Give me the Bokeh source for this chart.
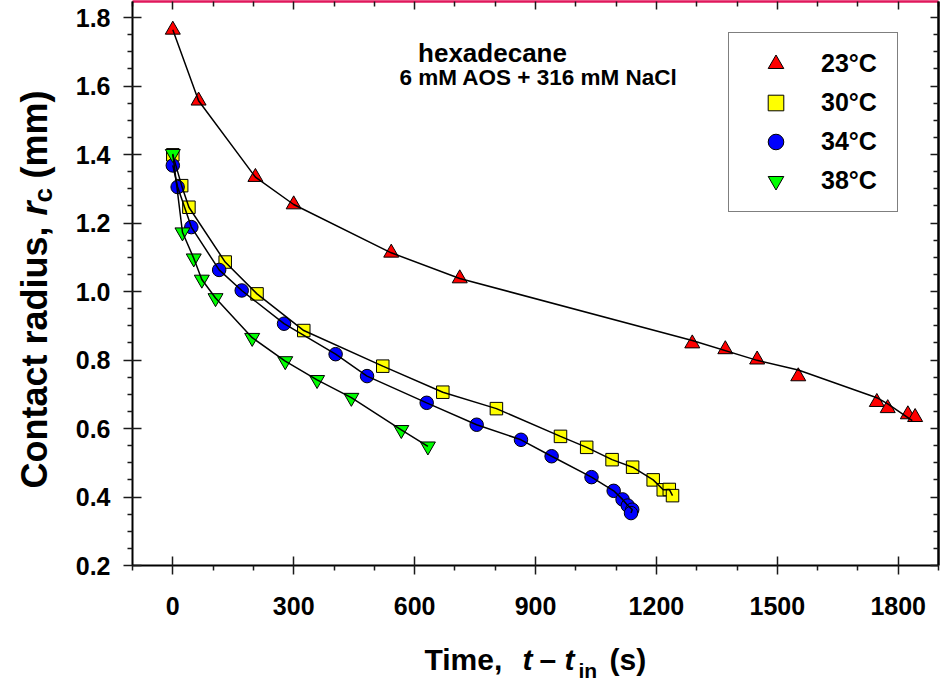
from bokeh.plotting import figure
from bokeh.layouts import column, row
from bokeh.models import (Range1d, LinearAxis, Label, Legend, LegendItem, FixedTicker,
                          NumeralTickFormatter, CustomJSTickFormatter)
from bokeh.embed import file_html
from bokeh.resources import INLINE

# ---------------- data ----------------
x_ticks = [0, 300, 600, 900, 1200, 1500, 1800]
x_minor = [-100, 100, 200, 400, 500, 700, 800, 1000, 1100, 1300, 1400, 1600, 1700, 1900]
y_ticks = [0.2, 0.4, 0.6, 0.8, 1.0, 1.2, 1.4, 1.6, 1.8]
y_minor = [0.25, 0.30, 0.35, 0.45, 0.50, 0.55, 0.65, 0.70, 0.75, 0.85, 0.90, 0.95,
           1.05, 1.10, 1.15, 1.25, 1.30, 1.35, 1.45, 1.50, 1.55, 1.65, 1.70, 1.75]

labels = ["23°C", "30°C", "34°C", "38°C"]

# 23 C  (red up-triangles)
t23 = [0, 64, 205, 300, 542, 712, 1289, 1371, 1450, 1552, 1747, 1774, 1824, 1842]
r23 = [1.764, 1.557, 1.334, 1.254, 1.113, 1.038, 0.848, 0.831, 0.801, 0.752, 0.677, 0.659, 0.641, 0.633]
# smoothed curve drawn through the 23 C points
fit23_t = [0, 64, 205, 300, 542, 712, 1289, 1450, 1552, 1747, 1774, 1835]
fit23_r = [1.764, 1.557, 1.334, 1.254, 1.113, 1.038, 0.857, 0.799, 0.771, 0.690, 0.672, 0.623]

# 30 C  (yellow squares)
t30 = [0, 22, 40, 130, 209, 325, 521, 670, 803, 962, 1027, 1090, 1141, 1192, 1217, 1232, 1240]
r30 = [1.399, 1.309, 1.246, 1.086, 0.993, 0.886, 0.782, 0.706, 0.658, 0.577, 0.545, 0.509,
       0.487, 0.450, 0.421, 0.422, 0.404]

# 34 C  (blue circles)
t34 = [0, 12, 46, 115, 171, 276, 404, 482, 630, 754, 864, 940, 1039, 1094, 1116, 1129, 1140, 1137]
r34 = [1.368, 1.305, 1.188, 1.063, 1.003, 0.906, 0.817, 0.753, 0.675, 0.611, 0.567, 0.519,
       0.458, 0.418, 0.393, 0.375, 0.363, 0.353]

# 38 C  (green down-triangles)
t38 = [0, 24, 52, 72, 106, 197, 279, 358, 443, 567, 633]
r38 = [1.402, 1.173, 1.097, 1.035, 0.981, 0.865, 0.797, 0.742, 0.690, 0.596, 0.548]

# ---------------- layout (page pixels) ----------------
FONT = "Liberation Sans"
PAGE_W, PAGE_H = 940, 681
YT_W = 64                        # width of the strip holding the y title
HP = 629                         # height of the main plot
PL, PR, PT, PB = 132, 938, 1, 565  # frame edges in page pixels
X0, X1 = -100, 1900
Y0, Y1 = 0.2, 1.8 + (17 - PT) / 342.5
MID = 0.305                      # baseline sits this many em below a "middle" anchor


def dx(px):
    return X0 + (px - PL) / (PR - PL) * (X1 - X0)


def dy(py):
    return Y0 + (PB - py) / (PB - PT) * (Y1 - Y0)


PW = PAGE_W - YT_W
p = figure(width=PW, height=HP, x_range=Range1d(X0, X1), y_range=Range1d(Y0, Y1),
           output_backend="svg", toolbar_location=None,
           min_border_left=PL - YT_W, min_border_right=PAGE_W - PR,
           min_border_top=PT, min_border_bottom=HP - PB)
p.outline_line_color = None
p.xgrid.visible = False
p.ygrid.visible = False
p.background_fill_color = "white"
p.border_fill_color = "white"


def style_axis(ax, mj_in, mj_out, mn_in, mn_out, line_color="black", line_width=2.0):
    ax.major_tick_in = mj_in
    ax.major_tick_out = mj_out
    ax.minor_tick_in = mn_in
    ax.minor_tick_out = mn_out
    ax.major_tick_line_color = "#1a1a1a"
    ax.minor_tick_line_color = "#1a1a1a"
    ax.major_tick_line_width = 1.5
    ax.minor_tick_line_width = 1.5
    ax.axis_line_color = line_color
    ax.axis_line_width = line_width
    ax.major_label_text_font = FONT
    ax.major_label_text_font_style = "bold"
    ax.major_label_text_font_size = "25px"
    ax.major_label_text_color = "black"


xb = p.xaxis[0]
xb.ticker = FixedTicker(ticks=x_ticks, minor_ticks=x_minor)
style_axis(xb, 9, 9, 0, 5)
xb.major_label_standoff = 22

yl = p.yaxis[0]
yl.ticker = FixedTicker(ticks=y_ticks, minor_ticks=y_minor)
yl.formatter = NumeralTickFormatter(format="0.0")
style_axis(yl, 9, 9, 0, 5)
yl.major_label_standoff = 13

xt = LinearAxis(ticker=FixedTicker(ticks=x_ticks, minor_ticks=x_minor),
                formatter=CustomJSTickFormatter(code="return ''"))
style_axis(xt, 8, 0, 5, 0, line_color="#e0185c", line_width=2.5)
xt.major_label_standoff = 0
xt.major_label_text_font_size = "1px"
p.add_layout(xt, "above")

yr = LinearAxis(ticker=FixedTicker(ticks=y_ticks, minor_ticks=y_minor),
                formatter=CustomJSTickFormatter(code="return ''"))
style_axis(yr, 8, 0, 5, 0, line_color="black", line_width=2.5)
yr.major_label_standoff = 0
yr.major_label_text_font_size = "1px"
p.add_layout(yr, "right")

# ---------------- markers (under) and lines (over) ----------------
s23 = p.scatter(t23, r23, marker="triangle", size=15, fill_color="#ff0000", line_color="black", line_width=1)
s30 = p.scatter(t30, r30, marker="square", size=12.5, fill_color="#ffff00", line_color="black", line_width=1)
s34 = p.scatter(t34, r34, marker="circle", size=13.5, fill_color="#0000ff", line_color="black", line_width=1)
s38 = p.scatter(t38, r38, marker="inverted_triangle", size=15, fill_color="#00ff00", line_color="black", line_width=1)

p.line(fit23_t, fit23_r, color="black", line_width=1.5)
p.line(t30, r30, color="black", line_width=1.5)
p.line(t34, r34, color="black", line_width=1.5)
p.line(t38, r38, color="black", line_width=1.5)

# ---------------- legend ----------------
legend = Legend(items=[LegendItem(label=lab, renderers=[r]) for lab, r in zip(labels, [s23, s30, s34, s38])],
                location=(728 - PL, PB - 212))
legend.padding = 11
legend.margin = 0
legend.spacing = 0
legend.glyph_width = 71
legend.glyph_height = 39
legend.label_height = 39
legend.label_standoff = 10
legend.label_width = 65
legend.label_text_font = FONT
legend.label_text_font_style = "bold"
legend.label_text_font_size = "25px"
legend.label_text_color = "black"
legend.border_line_color = "black"
legend.border_line_width = 1.5
legend.background_fill_color = "white"
legend.background_fill_alpha = 1.0
p.add_layout(legend)


def make_label(x, y, text, size, style="bold", angle=0, align="left"):
    return Label(x=x, y=y, text=text, text_font=FONT, text_font_style=style,
                 text_font_size=f"{size}px", text_color="black", text_align=align,
                 text_baseline="middle", angle=angle, angle_units="deg")


# annotation inside the plot (y given as wanted baseline in page px)
p.add_layout(make_label(dx(492), dy(60 - MID * 26), "hexadecane", 26, align="center"))
p.add_layout(make_label(dx(538), dy(84 - MID * 22.5), "6 mM AOS + 316 mM NaCl", 22.5, align="center"))


def strip(width, height, y_lo, y_hi, top=0, bottom=0):
    f = figure(width=width, height=height, x_range=Range1d(0, width), y_range=Range1d(y_lo, y_hi),
               x_axis_location=None, y_axis_location=None, toolbar_location=None,
               output_backend="svg", min_border=0, min_border_left=0, min_border_right=0,
               min_border_top=top, min_border_bottom=bottom)
    f.outline_line_color = None
    f.xgrid.visible = False
    f.ygrid.visible = False
    f.background_fill_color = "white"
    f.border_fill_color = "white"
    return f


# ---------------- y title strip:  Contact radius,  r_c (mm) ----------------
# its frame lines up with the main frame (page y PT..PB); data y = HP - page y
yfig = strip(YT_W, HP, HP - PB, HP - PT, top=PT, bottom=HP - PB)
# (page x of baseline, page y of the text's start, text, size, style, length in em)
for bx, sy, txt, sz, st, em in [(45, 488, "Contact radius,", 36, "bold", 7.279),
                                (45, 215, "r", 36, "bold italic", 0.389),
                                (50, 202, "c", 26, "bold", 0.556),
                                (45, 178, "(mm)", 36, "bold", 2.444)]:
    cy = sy - em * sz / 2.0
    cx = bx - MID * sz
    yfig.add_layout(make_label(cx, HP - cy, txt, sz, style=st, angle=90, align="center"))

# ---------------- x title strip:  Time,  t – t_in (s) ----------------
XT_H = PAGE_H - HP
xfig = strip(PAGE_W, XT_H, 0, XT_H)
for px, by, txt, sz, st in [(424, 668, "Time,", 30, "bold"),
                            (522, 668, "t", 30, "bold italic"),
                            (539, 668, "–", 30, "bold"),
                            (564, 668, "t", 30, "bold italic"),
                            (578, 676, "in", 21, "bold"),
                            (609, 668, "(s)", 30, "bold")]:
    xfig.add_layout(make_label(px, PAGE_H - (by - MID * sz), txt, sz, style=st))

layout = column(row(yfig, p, spacing=0), xfig, spacing=0)

open("out.html", "w").write(file_html(layout, INLINE))
